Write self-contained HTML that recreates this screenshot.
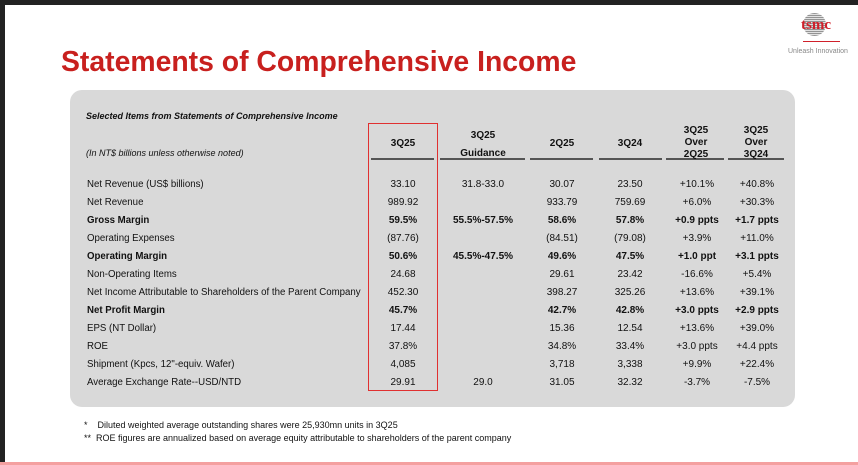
<!DOCTYPE html>
<html><head><meta charset="utf-8"><style>
*{margin:0;padding:0;box-sizing:border-box}
body{width:858px;height:465px;background:#222;position:relative;overflow:hidden;font-family:"Liberation Sans",Arial,sans-serif}
.page{position:absolute;left:5px;top:5px;width:853px;height:460px;background:#fff}
.t{position:absolute;white-space:nowrap;font-size:10px;color:#111;line-height:12px}
.c{text-align:center;transform:translateX(-50%)}
.b{font-weight:bold}
.ul{position:absolute;top:158px;height:2px;background:#555}
</style></head><body>
<div class="page"></div>
<div style="position:absolute;left:0;top:462px;width:858px;height:3px;background:#f4a0a0"></div>
<div style="position:absolute;left:803px;top:13px;width:23px;height:23px;border-radius:50%;background:repeating-linear-gradient(0deg,#888 0 1px,#ddd 1px 2px),#bbb;opacity:.9"></div>
<div class="t" style="left:801px;top:18px;font-family:'Liberation Serif',serif;font-size:15px;color:#d0202a;font-weight:bold;line-height:15px">tsmc</div>
<div style="position:absolute;left:803px;top:41px;width:37px;height:1px;background:#d0202a"></div>
<div class="t" style="left:788px;top:48px;font-size:7px;color:#888;line-height:8px">Unleash Innovation</div>
<div class="t" style="left:61px;top:46px;font-size:29px;line-height:32px;font-weight:bold;color:#c8201e;transform:scaleX(0.978);transform-origin:left">Statements of Comprehensive Income</div>
<div style="position:absolute;left:70px;top:90px;width:725px;height:317px;background:#d9d9d9;border-radius:12px"></div>
<div class="t b" style="left:86px;top:110px;font-style:italic;font-size:9px">Selected Items from Statements of Comprehensive Income</div>
<div class="t" style="left:86px;top:147px;font-style:italic;font-size:9px">(In NT$ billions unless otherwise noted)</div>
<div style="position:absolute;left:368px;top:123px;width:70px;height:268px;border:1.5px solid #e03030"></div>
<div class="ul" style="left:371px;width:63px"></div>
<div class="ul" style="left:440px;width:85px"></div>
<div class="ul" style="left:530px;width:63px"></div>
<div class="ul" style="left:599px;width:63px"></div>
<div class="ul" style="left:666px;width:58px"></div>
<div class="ul" style="left:728px;width:56px"></div>
<div class="t b c" style="left:403px;top:138px">3Q25</div>
<div class="t b c" style="left:483px;top:127px;line-height:18px;text-align:center">3Q25<br>Guidance</div>
<div class="t b c" style="left:562px;top:138px">2Q25</div>
<div class="t b c" style="left:630px;top:138px">3Q24</div>
<div class="t b c" style="left:696px;top:125px;line-height:12px;text-align:center">3Q25<br>Over<br>2Q25</div>
<div class="t b c" style="left:756px;top:125px;line-height:12px;text-align:center">3Q25<br>Over<br>3Q24</div>
<div id="rows"></div>
<div class="t" style="left:84px;top:419px;font-size:9px">*&nbsp;&nbsp;&nbsp; Diluted weighted average outstanding shares were 25,930mn units in 3Q25</div>
<div class="t" style="left:84px;top:432px;font-size:9px">**&nbsp; ROE figures are annualized based on average equity attributable to shareholders of the parent company</div>
<script>
var R=[
["Net Revenue (US$ billions)","33.10","31.8-33.0","30.07","23.50","+10.1%","+40.8%",0],
["Net Revenue","989.92","","933.79","759.69","+6.0%","+30.3%",0],
["Gross Margin","59.5%","55.5%-57.5%","58.6%","57.8%","+0.9 ppts","+1.7 ppts",1],
["Operating Expenses","(87.76)","","(84.51)","(79.08)","+3.9%","+11.0%",0],
["Operating Margin","50.6%","45.5%-47.5%","49.6%","47.5%","+1.0 ppt","+3.1 ppts",1],
["Non-Operating Items","24.68","","29.61","23.42","-16.6%","+5.4%",0],
["Net Income Attributable to Shareholders of the Parent Company","452.30","","398.27","325.26","+13.6%","+39.1%",0],
["Net Profit Margin","45.7%","","42.7%","42.8%","+3.0 ppts","+2.9 ppts",1],
["EPS (NT Dollar)","17.44","","15.36","12.54","+13.6%","+39.0%",0],
["ROE","37.8%","","34.8%","33.4%","+3.0 ppts","+4.4 ppts",0],
["Shipment (Kpcs, 12\"-equiv. Wafer)","4,085","","3,718","3,338","+9.9%","+22.4%",0],
["Average Exchange Rate--USD/NTD","29.91","29.0","31.05","32.32","-3.7%","-7.5%",0]];
var X=[403,483,562,630,697,757],h="";
R.forEach(function(r,i){var y=179+i*18,b=r[7]?" b":"";
h+='<div class="t'+b+'" style="left:87px;top:'+y+'px;transform:scaleX(0.967);transform-origin:left">'+r[0]+'</div>';
for(var j=0;j<6;j++)h+='<div class="t c'+b+'" style="left:'+X[j]+'px;top:'+y+'px">'+r[j+1]+'</div>';});
document.getElementById("rows").innerHTML=h;
</script>
</body></html>
